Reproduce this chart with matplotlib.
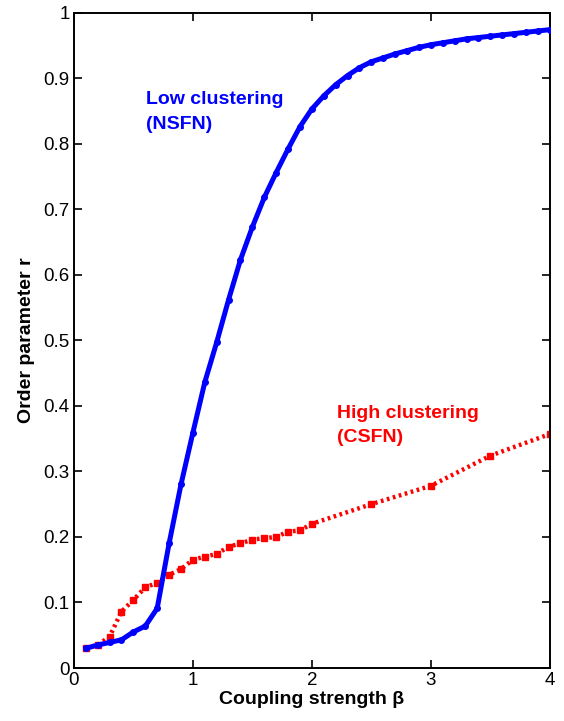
import numpy as np
import matplotlib.pyplot as plt
from matplotlib.ticker import FuncFormatter

# Low clustering (NSFN) network
beta_nsfn = [0.1, 0.2, 0.3, 0.4, 0.5, 0.6, 0.7, 0.8, 0.9, 1.0, 1.1, 1.2, 1.3, 1.4,
             1.5, 1.6, 1.7, 1.8, 1.9, 2.0, 2.1, 2.2, 2.3, 2.4, 2.5, 2.6, 2.7, 2.8,
             2.9, 3.0, 3.1, 3.2, 3.3, 3.4, 3.5, 3.6, 3.7, 3.8, 3.9, 4.0]
r_nsfn = [0.030, 0.035, 0.039, 0.043, 0.055, 0.064, 0.091, 0.190, 0.280, 0.359,
          0.436, 0.497, 0.562, 0.623, 0.673, 0.718, 0.756, 0.792, 0.826, 0.853,
          0.873, 0.890, 0.904, 0.916, 0.925, 0.931, 0.937, 0.942, 0.947, 0.951,
          0.954, 0.957, 0.960, 0.962, 0.964, 0.966, 0.968, 0.970, 0.972, 0.974]

# High clustering (CSFN) network
beta_csfn = [0.1, 0.2, 0.3, 0.4, 0.5, 0.6, 0.7, 0.8, 0.9, 1.0, 1.1, 1.2, 1.3, 1.4,
             1.5, 1.6, 1.7, 1.8, 1.9, 2.0, 2.5, 3.0, 3.5, 4.0]
r_csfn = [0.031, 0.035, 0.048, 0.086, 0.104, 0.123, 0.130, 0.142, 0.151, 0.165,
          0.170, 0.174, 0.185, 0.190, 0.196, 0.198, 0.200, 0.208, 0.210, 0.220,
          0.250, 0.278, 0.324, 0.357]

x_ticks = [0, 1, 2, 3, 4]
y_ticks = [0, 0.1, 0.2, 0.3, 0.4, 0.5, 0.6, 0.7, 0.8, 0.9, 1.0]

plt.rcParams['font.family'] = ['Liberation Sans', 'DejaVu Sans']

fig = plt.figure(figsize=(5.64, 7.21), dpi=100)
ax = fig.add_axes([0.131, 0.0735, 0.844, 0.909])

ax.plot(beta_csfn, r_csfn, color='#ff0000', linestyle=(0, (0.6, 0.8)),
        dash_capstyle='butt', linewidth=3.2,
        marker='s', markersize=5, zorder=2)
ax.plot(beta_nsfn, r_nsfn, color='#0000ff', linestyle='-', linewidth=3.6,
        marker='o', markersize=4, zorder=3)

ax.set_xlim(0, 4)
ax.set_ylim(0, 1)
ax.set_xticks(x_ticks)
ax.set_yticks(y_ticks)
ax.yaxis.set_major_formatter(FuncFormatter(lambda v, p: f'{v:g}'))
ax.tick_params(direction='in', top=True, right=True, length=6, width=1.2,
               labelsize=13.5, pad=3)
for s in ax.spines.values():
    s.set_linewidth(1.4)

ax.set_xlabel('Coupling strength β', fontsize=14, fontweight='bold', labelpad=1)
ax.set_ylabel('Order parameter r', fontsize=14, fontweight='bold', labelpad=6)

ax.text(0.605, 0.848, 'Low clustering\n(NSFN)', color='#0000ff', fontsize=14,
        fontweight='bold', ha='left', va='center', linespacing=1.6)
ax.text(2.21, 0.37, 'High clustering\n(CSFN)', color='#ff0000', fontsize=14,
        fontweight='bold', ha='left', va='center', linespacing=1.6)

fig.savefig('out.png', dpi=100)
